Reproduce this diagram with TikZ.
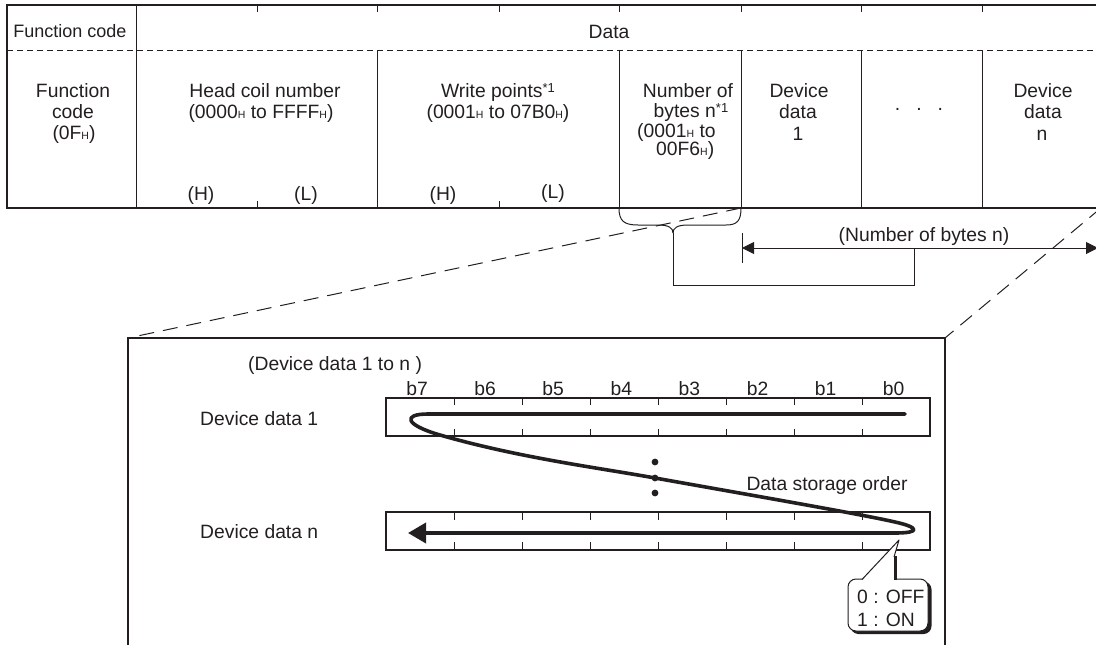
\documentclass[tikz,border=0pt]{standalone}
\usepackage{fontspec}
\setmainfont{Liberation Sans}
\usetikzlibrary{arrows.meta}
\definecolor{ink}{HTML}{231F20}
\newcommand\Hs{{\fontsize{10.5}{10.5}\selectfont H}}
\newcommand\supone{\raisebox{5pt}{\fontsize{13}{13}\selectfont *1}}
\begin{document}
\begin{tikzpicture}[x=1pt,y=-1pt,
  txt/.style={font=\fontsize{19.3}{21}\selectfont, text=ink, inner sep=0pt, anchor=base},
  txtl/.style={txt, anchor=base west},
  border/.style={draw=ink, line width=2.4pt},
  thin/.style={draw=ink, line width=1pt},
  sepdash/.style={draw=ink, line width=0.9pt, dash pattern=on 6pt off 4pt},
  projdash/.style={draw=ink, line width=1pt, dash pattern=on 15pt off 9pt},
  boxline/.style={draw=ink, line width=1.6pt},
  order/.style={draw=ink, line width=3.6pt, line cap=round, line join=round},
  dimarrow/.style={draw=ink, line width=1pt, {Triangle[length=12pt,width=12pt]}-{Triangle[length=12pt,width=12pt]}}
]
\useasboundingbox (0,0) rectangle (1096,645);

% ---------- frame table ----------
\draw[border] (7,5) -- (1100,5);
\draw[border] (7,208) -- (1100,208);
\draw[border] (7,3.8) -- (7,209.2);
\draw[sepdash] (7,50) -- (1100,50);
\draw[thin] (136,5) -- (136,208);
\foreach \x in {257,377,499,619,741,861,982} \draw[thin] (\x,5) -- (\x,12);
\foreach \x in {257,499} \draw[thin] (\x,201) -- (\x,208);
\foreach \x in {377,619,741,861,982} \draw[thin] (\x,50) -- (\x,208);

\node[txt, font=\fontsize{18}{21}\selectfont] (hdrfc) at (70,37) {Function code};
\node[txt] (hdrdata) at (609,38) {Data};

\node[txt] (fc1) at (73,97) {Function};
\node[txt] (fc2) at (73,118) {code};
\node[txt] (fc3) at (74,139) {(0F\Hs)};

\node[txt] (hc1) at (265,97) {Head coil number};
\node[txt] (hc2) at (261,118) {(0000\Hs{} to FFFF\Hs)};
\node[txt] (hcH) at (201,200) {(H)};
\node[txt] (hcL) at (306,200) {(L)};

\node[txt] (wp1) at (498,97) {Write points\supone};
\node[txt] (wp2) at (498,118) {(0001\Hs{} to 07B0\Hs)};
\node[txt] (wpH) at (443,200) {(H)};
\node[txt] (wpL) at (553,198) {(L)};

\node[txt] (nb1) at (688,97) {Number of};
\node[txt] (nb2) at (691,117) {bytes n\supone};
\node[txtl] (nb3) at (637,137) {(0001\Hs{} to};
\node[txtl] (nb4) at (656,155) {00F6\Hs)};

\node[txt] (d1a) at (799,97) {Device};
\node[txt] (d1b) at (798,118) {data};
\node[txt] (d1c) at (798,140) {1};
\node[txt] (dots) at (919,110) {.\hspace{16pt}.\hspace{16pt}.};
\node[txt] (dna) at (1043,97) {Device};
\node[txt] (dnb) at (1043,118) {data};
\node[txt] (dnc) at (1042,140) {n};

% ---------- brace and byte-count dimension ----------
\coordinate (bL) at (619,208);
\coordinate (bR) at (741,208);
\coordinate (btip) at (673,233);
\draw[thin] (bL) .. controls (619,221) and (624,225) .. (638,225) -- (658,225) .. controls (669,225) and (673,228) .. (btip);
\draw[thin] (btip) .. controls (673,228) and (677,225) .. (688,225) -- (726,225) .. controls (737,225) and (741,221) .. (bR);
\coordinate (arrL) at (742,248);
\coordinate (arrR) at (1098,248);
\coordinate (arrJ) at (914,248);
\coordinate (cornR) at (914,285);
\coordinate (tickT) at (742,233);
\coordinate (tickB) at (742,263);
\draw[thin] (btip) |- (cornR) -- (arrJ);
\draw[dimarrow] (arrL) -- (arrR);
\draw[thin] (tickT) -- (tickB);
\node[txt] (nbl) at (924,241) {(Number of bytes n)};

% ---------- projection lines and detail box ----------
\coordinate (boxTL) at (128,338);
\coordinate (boxTR) at (945,338);
\coordinate (tabBR) at (1101,208);
\draw[projdash] (bR) -- (boxTL);
\draw[projdash] (tabBR) -- (boxTR);
\draw[boxline] (128,650) -- (boxTL) -- (boxTR) -- (945,650);

\node[txtl] (range) at (248,370) {(Device data 1 to n )};
\foreach \i in {0,...,7} {
  \pgfmathtruncatemacro\b{7-\i}
  \node[txt] (bit\b) at (417+68.1*\i,395) {b\b};
}
\node[txtl] (dd1) at (200,425) {Device data 1};
\node[txtl] (ddn) at (200,538) {Device data n};

\draw[boxline, line width=1.4pt] (386,398) rectangle (930,436);
\draw[boxline, line width=1.4pt] (386,512) rectangle (930,550);
\foreach \k in {1,...,7} {
  \draw[thin] (386+68*\k,398) -- (386+68*\k,405);
  \draw[thin] (386+68*\k,429) -- (386+68*\k,436);
  \draw[thin] (386+68*\k,512) -- (386+68*\k,520);
  \draw[thin] (386+68*\k,542) -- (386+68*\k,550);
}

\draw[order, -{Triangle[length=18pt,width=20pt]}]
  (905,414) -- (428,414) .. controls (402,414) and (405,425) .. (440,435)
  .. controls (520,458) and (600,468) .. (655,478)
  .. controls (750,495) and (860,514) .. (895,522)
  .. controls (918,527) and (922,533) .. (895,533) -- (408,533);
\fill[ink] (655,462) circle (3.4pt) (655,478) circle (3.4pt) (655,493) circle (3.4pt);
\node[txt] (dso) at (827,490) {Data storage order};

% ---------- callout ----------
\fill[ink, rounded corners=8pt] (850.5,581.5) rectangle (931.5,634);
\draw[thin, fill=white, rounded corners=8pt] (848,579) rectangle (928,631);
\fill[white] (862.5,580.3) -- (899,540) -- (894,557) -- (894,580.3) -- cycle;
\draw[thin, line join=round] (862,579.5) -- (899,540) -- (894,557);
\draw[ink, line width=2.6pt] (895.3,556) -- (895.3,580);
\node[txtl] (off) at (857,603) {0 : OFF};
\node[txtl] (on) at (857,626) {1 : ON};
\end{tikzpicture}
\end{document}
